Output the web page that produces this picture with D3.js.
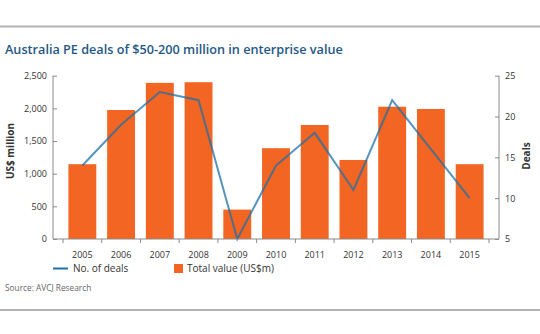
<!DOCTYPE html>
<html>
<head>
<meta charset="utf-8">
<script src="https://cdn.jsdelivr.net/npm/d3@7"></script>
<style>
  html, body { margin: 0; padding: 0; background: #fff; }
  svg { display: block; font-family: "Open Sans", "Noto Sans", sans-serif; }
</style>
</head>
<body>
<svg id="chart" width="540" height="334"></svg>
<script>
// Australia PE deals of $50-200 million in enterprise value
const years = ["2005", "2006", "2007", "2008", "2009", "2010", "2011", "2012", "2013", "2014", "2015"];
const totalValue = [1145, 1975, 2390, 2400, 450, 1390, 1745, 1210, 2025, 1990, 1145]; // US$m
const dealCount = [14, 19, 23, 22, 5, 14, 18, 11, 22, 16, 10];
const valueTicks = [0, 500, 1000, 1500, 2000, 2500];
const dealTicks = [5, 10, 15, 20, 25];

(function () {
  const svg = d3.select("#chart");
  const W = 540;

  const orange = "#f26522";
  const blue = "#1f70a8";
  const axisGrey = "#8a8a8a";
  const textCol = "#333";

  // page rules
  svg.append("line").attr("x1", 0).attr("x2", W).attr("y1", 26.5).attr("y2", 26.5)
    .attr("stroke", "#b3b3b3").attr("stroke-width", 2);
  svg.append("line").attr("x1", 0).attr("x2", W).attr("y1", 310).attr("y2", 310)
    .attr("stroke", "#b3b3b3").attr("stroke-width", 2);

  // title
  const title = svg.append("text").attr("x", 5).attr("y", 54)
    .attr("fill", "#1f5885").attr("font-weight", 600).attr("font-size", 14)
    .text("Australia PE deals of $50-200 million in enterprise value");
  const tl = title.node().getComputedTextLength();
  title.attr("font-size", 14 * 338 / tl);

  const leftX = 53, rightX = 499, plotTop = 75.7, plotBottom = 239;
  const bandStart = 63, bandEnd = 489;

  const x = d3.scaleBand().domain(years).range([bandStart, bandEnd])
    .paddingInner(0.28).paddingOuter(0.14);
  const yVal = d3.scaleLinear().domain([0, 2500]).range([plotBottom, plotTop]);
  const yDeals = d3.scaleLinear().domain([5, 25]).range([plotBottom, plotTop]);

  // bars
  svg.append("g").selectAll("rect").data(years).join("rect")
    .attr("x", d => x(d))
    .attr("width", x.bandwidth())
    .attr("y", (d, i) => yVal(totalValue[i]))
    .attr("height", (d, i) => yVal(0) - yVal(totalValue[i]))
    .attr("fill", orange);

  // deals line
  const line = d3.line()
    .x((d, i) => x(years[i]) + x.bandwidth() / 2)
    .y(d => yDeals(d));
  svg.append("path").datum(dealCount)
    .attr("d", line)
    .attr("fill", "none")
    .attr("stroke", blue)
    .attr("stroke-opacity", 0.75)
    .attr("stroke-width", 2);

  // left and right axes, ticks pointing inward
  const gL = svg.append("g").attr("transform", `translate(${leftX},0)`)
    .call(d3.axisLeft(yVal).tickValues(valueTicks).tickSize(-4).tickPadding(6)
      .tickFormat(d3.format(",")));
  const gR = svg.append("g").attr("transform", `translate(${rightX},0)`)
    .call(d3.axisRight(yDeals).tickValues(dealTicks).tickSize(-4).tickPadding(6));

  // x axis: ticks at category boundaries
  const boundaries = d3.range(years.length + 1)
    .map(i => bandStart + i * (bandEnd - bandStart) / years.length);
  const gX = svg.append("g");
  gX.append("line").attr("x1", leftX).attr("x2", rightX)
    .attr("y1", plotBottom).attr("y2", plotBottom).attr("stroke", axisGrey);
  gX.selectAll("line.tk").data(boundaries).join("line").attr("class", "tk")
    .attr("x1", d => d).attr("x2", d => d)
    .attr("y1", plotBottom).attr("y2", plotBottom + 4)
    .attr("stroke", axisGrey);
  gX.selectAll("text").data(years).join("text")
    .attr("x", d => x(d) + x.bandwidth() / 2).attr("y", 258)
    .attr("text-anchor", "middle").attr("font-size", 9).attr("fill", textCol)
    .text(d => d);

  [gL, gR].forEach(g => {
    g.select(".domain").attr("stroke", axisGrey).attr("d", `M0,${plotTop}V${plotBottom}`);
    g.selectAll(".tick line").attr("stroke", axisGrey);
    g.selectAll(".tick text").attr("font-size", 9).attr("fill", textCol)
      .attr("font-family", "'Open Sans', sans-serif");
  });

  // axis titles
  svg.append("text").attr("transform", "translate(14,151) rotate(-90)")
    .attr("text-anchor", "middle").attr("font-size", 10).attr("font-weight", 700)
    .attr("fill", textCol).text("US$ million");
  svg.append("text").attr("transform", "translate(530,156) rotate(-90)")
    .attr("text-anchor", "middle").attr("font-size", 10).attr("font-weight", 700)
    .attr("fill", textCol).text("Deals");

  // legend
  const lg = svg.append("g");
  lg.append("line").attr("x1", 53).attr("x2", 68).attr("y1", 268.5).attr("y2", 268.5)
    .attr("stroke", blue).attr("stroke-width", 2);
  lg.append("text").attr("x", 73).attr("y", 272).attr("font-size", 10).attr("fill", textCol)
    .text("No. of deals");
  lg.append("rect").attr("x", 174).attr("y", 264).attr("width", 9).attr("height", 9)
    .attr("fill", orange);
  lg.append("text").attr("x", 187).attr("y", 272).attr("font-size", 10).attr("fill", textCol)
    .text("Total value (US$m)");

  // source
  svg.append("text").attr("x", 5).attr("y", 291).attr("font-size", 8.3).attr("fill", "#666")
    .text("Source: AVCJ Research");
})();
</script>
</body>
</html>
